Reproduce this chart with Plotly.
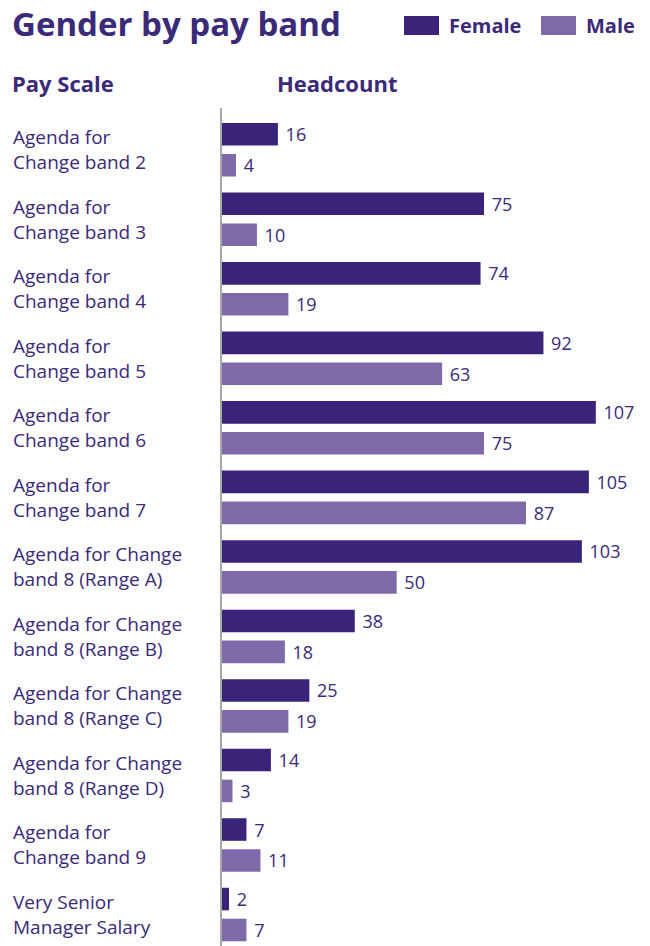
import plotly.graph_objects as go

categories = [
    "Agenda for<br>Change band 2",
    "Agenda for<br>Change band 3",
    "Agenda for<br>Change band 4",
    "Agenda for<br>Change band 5",
    "Agenda for<br>Change band 6",
    "Agenda for<br>Change band 7",
    "Agenda for Change<br>band 8 (Range A)",
    "Agenda for Change<br>band 8 (Range B)",
    "Agenda for Change<br>band 8 (Range C)",
    "Agenda for Change<br>band 8 (Range D)",
    "Agenda for<br>Change band 9",
    "Very Senior<br>Manager Salary",
]
female = [16, 75, 74, 92, 107, 105, 103, 38, 25, 14, 7, 2]
male = [4, 10, 19, 63, 75, 87, 50, 18, 19, 3, 11, 7]

W, H = 650, 946
FEMALE_C = "#3a2479"
MALE_C = "#7e6aa9"
TEXT_C = "#3a2a78"
FONT = "Open Sans"

def px(x):
    return x / W

def py(y):
    return 1 - y / H

fig = go.Figure()
fig.add_trace(go.Bar(
    y=categories, x=female, orientation="h", name="Female",
    marker=dict(color=FEMALE_C, line=dict(width=0)),
    text=female, texttemplate=" %{x}", textposition="outside",
    textfont=dict(color=TEXT_C, size=18, family=FONT), constraintext="none",
    cliponaxis=False, showlegend=False,
))
fig.add_trace(go.Bar(
    y=categories, x=male, orientation="h", name="Male",
    marker=dict(color=MALE_C, line=dict(width=0)),
    text=male, texttemplate=" %{x}", textposition="outside",
    textfont=dict(color=TEXT_C, size=18, family=FONT), constraintext="none",
    cliponaxis=False, showlegend=False,
))

annotations = []
for c in categories:
    annotations.append(dict(
        x=px(11), xref="paper", y=c, yref="y", text=c, showarrow=False,
        xanchor="left", yanchor="middle", align="left",
        font=dict(size=19, color=TEXT_C, family=FONT),
    ))

annotations += [
    dict(x=px(10), y=py(24), xref="paper", yref="paper", text="<b>Gender by pay band</b>",
         showarrow=False, xanchor="left", yanchor="middle",
         font=dict(size=33, color=TEXT_C, family=FONT)),
    dict(x=px(447), y=py(26), xref="paper", yref="paper", text="<b>Female</b>",
         showarrow=False, xanchor="left", yanchor="middle",
         font=dict(size=20, color=TEXT_C, family=FONT)),
    dict(x=px(584), y=py(26), xref="paper", yref="paper", text="<b>Male</b>",
         showarrow=False, xanchor="left", yanchor="middle",
         font=dict(size=20, color=TEXT_C, family=FONT)),
    dict(x=px(10), y=py(83), xref="paper", yref="paper", text="<b>Pay Scale</b>",
         showarrow=False, xanchor="left", yanchor="middle",
         font=dict(size=22, color=TEXT_C, family=FONT)),
    dict(x=px(275), y=py(83), xref="paper", yref="paper", text="<b>Headcount</b>",
         showarrow=False, xanchor="left", yanchor="middle",
         font=dict(size=22, color=TEXT_C, family=FONT)),
]

shapes = [
    dict(type="rect", xref="paper", yref="paper", x0=px(404), x1=px(439), y0=py(16), y1=py(35),
         fillcolor=FEMALE_C, line=dict(width=0)),
    dict(type="rect", xref="paper", yref="paper", x0=px(541), x1=px(576), y0=py(16), y1=py(35),
         fillcolor=MALE_C, line=dict(width=0)),
    dict(type="line", xref="paper", yref="paper", x0=px(221), x1=px(221), y0=py(108), y1=py(946),
         line=dict(color="#a8a8a8", width=2)),
]

fig.update_layout(
    width=W, height=H,
    margin=dict(l=0, r=0, t=0, b=0),
    paper_bgcolor="white", plot_bgcolor="white",
    barmode="group", bargap=0.11, bargroupgap=0.27,
    xaxis=dict(domain=[px(222), 1], range=[0, 122.5], showgrid=False, zeroline=False,
               showticklabels=False, showline=False, ticks=""),
    yaxis=dict(domain=[0, py(115)], range=[11.453, -0.5], showgrid=False, zeroline=False,
               showticklabels=False, showline=False, ticks="", type="category"),
    annotations=annotations, shapes=shapes,
    font=dict(family=FONT, color=TEXT_C),
)

fig.write_html("out.html")
